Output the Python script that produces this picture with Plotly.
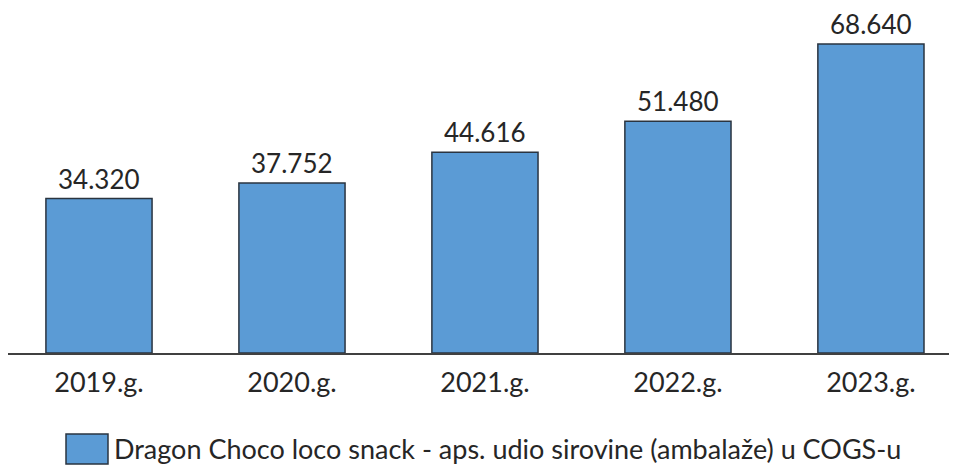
import plotly.graph_objects as go

categories = ["2019.g.", "2020.g.", "2021.g.", "2022.g.", "2023.g."]
values = [34320, 37752, 44616, 51480, 68640]
series_name = "Dragon Choco loco snack - aps. udio sirovine (ambalaže) u COGS-u"

FONT = "Lato, 'Noto Sans', sans-serif"
fill = "#5B9BD5"
edge = "#2A3440"

W, H = 949, 458
L, T, B = 0, 2, 113
PW, PH = W - L, H - T - B

fig = go.Figure()
fig.add_trace(go.Bar(
    x=list(range(len(categories))), y=values, name=series_name,
    width=0.55, marker=dict(color=fill, line=dict(color=edge, width=1.5)),
    showlegend=False,
))
for i, v in enumerate(values):
    fig.add_annotation(x=i, y=v, text=f"{v:,}".replace(",", "."), showarrow=False,
                       yanchor="bottom", yshift=3, borderpad=0,
                       font=dict(size=26, color="#262626", family=FONT))

def px(x):
    return (x - L) / PW

def py(y):
    return (H - B - y) / PH

# legend (drawn manually for a larger swatch)
fig.add_shape(type="rect", xref="paper", yref="paper",
              x0=px(58), x1=px(100), y0=py(456), y1=py(426),
              fillcolor=fill, line=dict(color=edge, width=1.5))
fig.add_annotation(xref="paper", yref="paper", x=px(104), y=py(440),
                   text=series_name, showarrow=False, xanchor="left", yanchor="middle",
                   font=dict(size=27, color="#262626", family=FONT))

fig.update_layout(
    width=W, height=H,
    margin=dict(l=L, r=0, t=T, b=B),
    paper_bgcolor="white", plot_bgcolor="white",
    separators=",.",
    xaxis=dict(range=[-0.4715, 4.446], tickmode="array", tickvals=list(range(len(categories))),
               ticktext=categories, showgrid=False, zeroline=False,
               showline=True, linecolor="#404040", linewidth=2,
               tickfont=dict(size=27, color="#262626", family=FONT), ticks="", ticklabelstandoff=5),
    yaxis=dict(range=[0, 76193], visible=False),
    font=dict(family=FONT),
)
fig.write_html("out.html")
